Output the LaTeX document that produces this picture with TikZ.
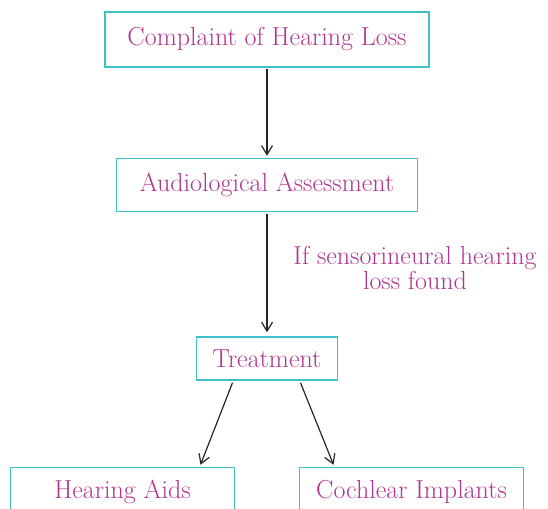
\documentclass[tikz,border=0pt]{standalone}
\usepackage{tikz}
\usetikzlibrary{positioning,calc,arrows.meta}
\definecolor{boxline}{HTML}{3CC3CA}
\definecolor{boxtext}{HTML}{B0358F}
\tikzset{  stage/.style={draw=boxline,line width=1.5pt,text=boxtext,font=\fontsize{26}{25}\selectfont,inner sep=0pt},
  flow/.style={-{Straight Barb[length=9pt,width=11pt]},line width=1.2pt,draw=black!85} }

\begin{document}
\begin{tikzpicture}
   \useasboundingbox (0,0) rectangle (548pt,508pt);
   \node[stage,minimum width=324pt,minimum height=55pt] (cmp) at (267pt,468.5pt) {Complaint of Hearing Loss};
   \node[stage,minimum width=301pt,minimum height=53pt,below=90pt of cmp] (aud) {Audiological Assessment};
   \node[stage,minimum width=141pt,minimum height=43pt,below=124pt of aud] (trt) {Treatment};
   \node[stage,minimum width=224pt,minimum height=48pt,below=86pt of trt,xshift=-144.5pt] (aids) {Hearing Aids};
   \node[stage,minimum width=224pt,minimum height=48pt,below=86pt of trt,xshift=144.5pt] (ci) {Cochlear Implants};
   \node[text=boxtext,font=\fontsize{26}{25}\selectfont,align=center] (cond) at (415pt,240.5pt) {If sensorineural hearing\\loss found};
   \draw[flow,shorten <=1pt,shorten >=2pt] (cmp) -- (aud);
   \draw[flow,shorten <=2pt,shorten >=4pt] (aud) -- (trt);
   \draw[flow] ($(trt.south)+(-34.5pt,-2pt)$) -- ($(aids.north)+(78pt,2pt)$);
   \draw[flow] ($(trt.south)+(33.5pt,-2pt)$) -- ($(ci.north)+(-78pt,2pt)$);
\end{tikzpicture}
\end{document}
